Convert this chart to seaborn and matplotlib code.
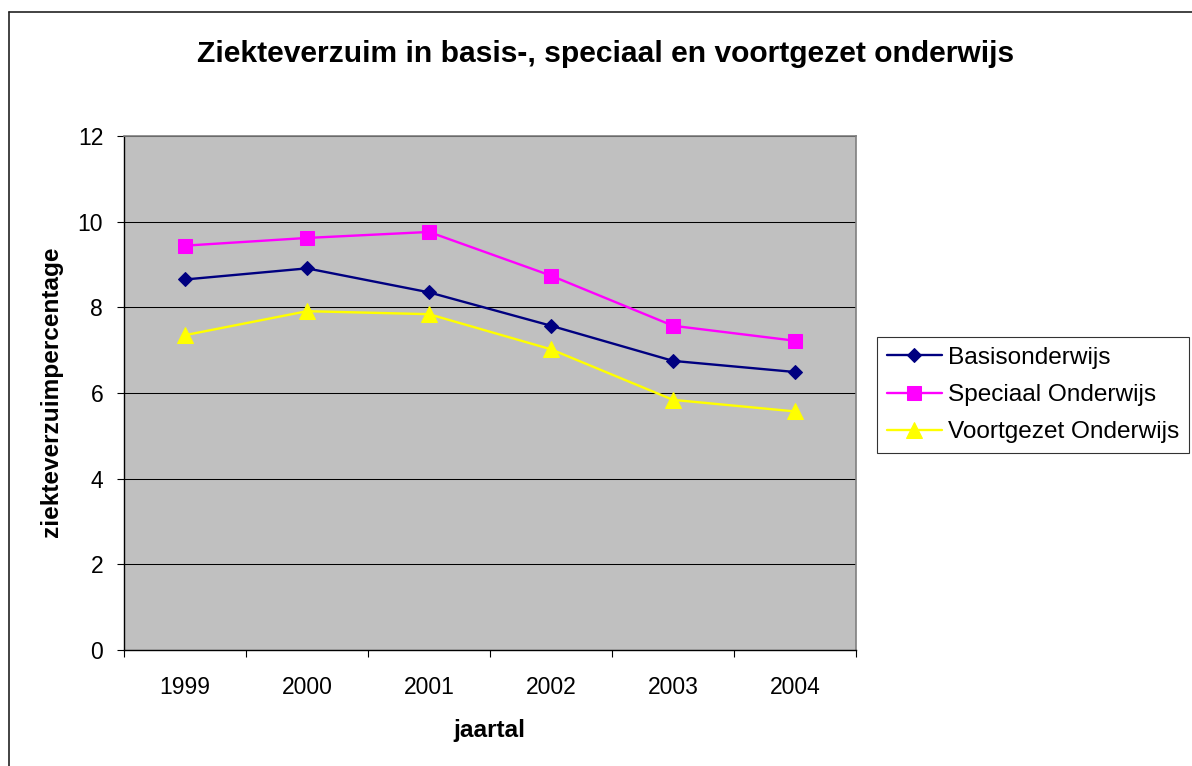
import numpy as np
import pandas as pd
import seaborn as sns
import matplotlib
matplotlib.use("Agg")
import matplotlib.pyplot as plt
from matplotlib.lines import Line2D

# data
years = ["1999", "2000", "2001", "2002", "2003", "2004"]
basis = [8.65, 8.91, 8.35, 7.57, 6.75, 6.49]
speciaal = [9.44, 9.62, 9.76, 8.74, 7.57, 7.22]
voortgezet = [7.35, 7.91, 7.84, 7.02, 5.84, 5.57]

series_names = ["Basisonderwijs", "Speciaal Onderwijs", "Voortgezet Onderwijs"]
colors = ["#000080", "#FF00FF", "#FFFF00"]
markers = ["D", "s", "^"]
msizes = [7, 10.5, 11]

df = pd.DataFrame({
    "pos": list(range(len(years))) * 3,
    "value": basis + speciaal + voortgezet,
    "serie": [s for s in series_names for _ in years],
})

sns.set_theme(style="white")
plt.rcParams["font.family"] = ["Liberation Sans", "DejaVu Sans"]
plt.rcParams["text.color"] = "black"
plt.rcParams["axes.labelcolor"] = "black"
plt.rcParams["xtick.color"] = "black"
plt.rcParams["ytick.color"] = "black"

W, H = 1192, 766
fig = plt.figure(figsize=(W / 100, H / 100), dpi=100)
ax = fig.add_axes([124 / W, 1 - 650 / H, (856 - 124) / W, (650 - 136) / H])
ax.set_facecolor("#C0C0C0")

for name, col, mk, ms in zip(series_names, colors, markers, msizes):
    sub = df[df["serie"] == name]
    sns.lineplot(data=sub, x="pos", y="value", color=col, marker=mk,
                 markersize=ms, markeredgecolor=col, linewidth=1.7,
                 label=name, ax=ax, zorder=3)

ax.set_xlim(-0.5, len(years) - 0.5)
ax.set_ylim(0, 12)
ax.set_yticks(np.arange(0, 13, 2))
ax.set_xticks(np.arange(-0.5, len(years), 1.0))
ax.set_xticklabels([])
ax.set_xticks(range(len(years)), minor=True)
ax.set_xticklabels(years, minor=True)
ax.tick_params(axis="x", which="major", length=5, width=0.8, direction="out",
               color="black", bottom=True)
ax.tick_params(axis="x", which="minor", length=0, pad=19, labelsize=16.5,
               labelcolor="black", bottom=True)
ax.tick_params(axis="y", length=5, width=0.8, direction="out", color="black",
               pad=10, labelsize=16.5, labelcolor="black", left=True)
ax.yaxis.grid(True, color="black", linewidth=0.75)
ax.xaxis.grid(False)
ax.set_axisbelow(True)
ax.set_xlabel("")
ax.set_ylabel("")

for side in ["top", "right"]:
    ax.spines[side].set_color("#808080")
    ax.spines[side].set_linewidth(1.2)
for side in ["left", "bottom"]:
    ax.spines[side].set_color("black")
    ax.spines[side].set_linewidth(1.0)

leg = ax.legend(loc="upper left", bbox_to_anchor=(877 / W, 1 - 337 / H),
                bbox_transform=fig.transFigure, borderaxespad=0,
                fontsize=17.6, frameon=True, fancybox=False, shadow=False,
                handlelength=2.25, handletextpad=0.25, labelspacing=0.62,
                borderpad=0.4)
leg.get_frame().set_edgecolor("black")
leg.get_frame().set_linewidth(0.8)
leg.get_frame().set_facecolor("white")
for t in leg.get_texts():
    t.set_color("black")

fig.text(605.5 / W, 1 - 62.3 / H, "Ziekteverzuim in basis-, speciaal en voortgezet onderwijs",
         ha="center", va="baseline", fontsize=21.6, fontweight="bold", color="black")
fig.text(489 / W, 1 - 737.5 / H, "jaartal", ha="center", va="baseline",
         fontsize=17.6, fontweight="bold", color="black")
fig.text(58 / W, 1 - 392 / H, "ziekteverzuimpercentage", rotation=90,
         rotation_mode="anchor", ha="center", va="baseline",
         fontsize=17.6, fontweight="bold", color="black")

# outer chart frame
fig.add_artist(Line2D([9 / W, 9 / W], [0, 1 - 12 / H], transform=fig.transFigure,
                      color="#222222", linewidth=1.2))
fig.add_artist(Line2D([9 / W, 1], [1 - 12 / H, 1 - 12 / H], transform=fig.transFigure,
                      color="#222222", linewidth=1.2))

fig.savefig("out.png", dpi=100)
